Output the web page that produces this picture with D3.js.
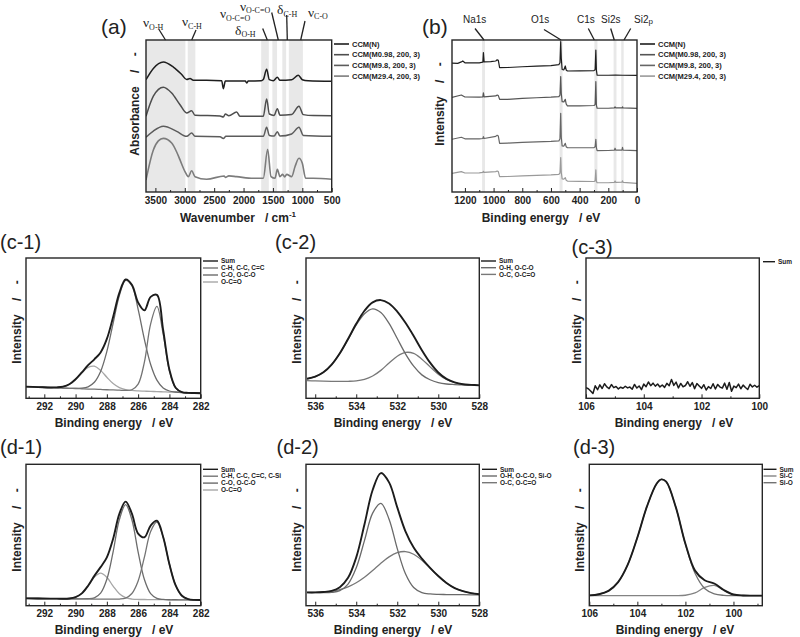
<!DOCTYPE html>
<html>
<head>
<meta charset="utf-8">
<script src="https://cdn.jsdelivr.net/npm/d3@7"></script>
<style>
  body { margin: 0; background: #fff; }
  svg text { font-family: Arial, "Liberation Sans", Helvetica, sans-serif; fill: #222; white-space: pre; }
</style>
</head>
<body>
<script>
// ---------- (a) FTIR: [wavenumber cm-1, absorbance (offset, a.u.)] ----------
const ftirN = [[3660,73.9],[3535,81.3],[3365,85.5],[3195,82.2],[3053,77.3],[2968,74.0],[2911,74.7],[2855,73.5],
  [2628,73.5],[2372,73.2],[2344,68.0],[2310,73.0],[1970,73.0],[1947,71.7],[1920,73.0],[1700,73.2],[1664,74.0],
  [1607,80.7],[1561,73.9],[1493,73.2],[1425,75.5],[1380,73.5],[1181,73.9],[1068,76.8],[1000,73.9],[900,73.2],[500,72.8]];
const ftirM098 = [[3660,49.8],[3535,63.0],[3365,68.9],[3223,65.1],[3081,57.4],[2968,52.0],[2883,53.5],[2826,50.5],
  [2400,50.0],[2344,49.3],[2310,51.3],[2250,50.2],[2117,52.6],[2061,49.8],[1664,49.8],[1607,61.2],[1561,51.3],
  [1480,50.4],[1425,54.8],[1380,50.5],[1181,51.0],[1057,56.4],[983,50.9],[813,50.3],[500,50.2]];
const ftirM98 = [[3660,36.0],[3535,40.1],[3365,43.2],[3138,39.9],[2968,36.6],[2883,38.8],[2826,36.6],[2400,36.4],
  [2344,35.2],[2300,36.6],[1664,36.6],[1607,42.6],[1561,37.2],[1480,36.8],[1425,39.7],[1380,36.8],[1181,38.2],
  [1057,42.6],[983,37.2],[500,36.6]];
const ftirM294 = [[3660,7.9],[3535,27.6],[3450,33.6],[3365,35.3],[3223,32.2],[3138,26.3],[3081,21.1],[2996,13.4],
  [2940,10.1],[2883,14.0],[2826,10.1],[2628,8.4],[2330,10.5],[2310,9.6],[2250,10.6],[2117,10.1],[1834,9.0],
  [1664,9.0],[1590,28.1],[1533,10.1],[1465,9.0],[1425,14.9],[1380,10.1],[1335,11.6],[1300,9.9],[1266,11.6],
  [1181,10.1],[1125,16.6],[1057,22.2],[1000,18.9],[943,9.0],[813,9.0],[500,8.4]];
const ftirBands = [[3660,2990],[2950,2820],[1700,1570],[1510,1430],[1340,1275],[1230,990]];
const ftirTicks = [3500, 3000, 2500, 2000, 1500, 1000, 500];
const ftirMinor = [3250, 2750, 2250, 1750, 1250, 750];
const sampleNames = ['CCM(N)', 'CCM(M0.98, 200, 3)', 'CCM(M9.8, 200, 3)', 'CCM(M29.4, 200, 3)'];

// ---------- (b) XPS survey: [binding energy eV, intensity (offset, a.u.)] ----------
const surveyN = [[1290,84.8],[1250,84.6],[1225,85.6],[1215,86.2],[1200,85.0],[1150,84.9],[1100,85.0],[1075,85.4],
  [1071,91.7],[1066,85.6],[1020,85.8],[985,86.2],[975,87.0],[967,86.6],[958,81.8],[900,81.9],[800,82.4],[700,82.8],
  [600,83.2],[545,83.8],[537,85.0],[532,98.9],[528,88.0],[522,80.6],[510,80.4],[500,82.9],[494,80.3],[485,79.6],
  [400,79.7],[300,79.9],[292,80.4],[287,93.4],[283,80.0],[278,76.8],[200,76.8],[150,76.9],[100,76.8],[0,76.7]];
const surveyM098 = [[1290,62.3],[1225,63.8],[1200,62.5],[1100,62.4],[1075,62.6],[1071,65.3],[1066,62.6],[985,63.2],
  [975,63.8],[967,63.4],[958,61.0],[900,61.0],[800,61.6],[700,62.0],[600,62.4],[545,62.8],[537,63.8],[532,75.9],
  [528,65.0],[522,59.4],[510,59.3],[500,61.0],[494,58.0],[485,56.6],[400,56.7],[300,56.9],[292,57.5],[287,72.6],
  [283,57.0],[278,55.1],[200,55.1],[158,55.3],[153,56.0],[148,55.3],[104,55.3],[101,56.0],[97,55.3],[0,55.0]];
const surveyM98 = [[1290,34.7],[1225,36.0],[1200,35.0],[1100,35.0],[1075,35.2],[1071,36.4],[1066,35.2],[985,36.6],
  [975,37.3],[967,36.8],[958,32.0],[900,32.2],[800,32.7],[700,33.0],[600,33.3],[545,33.6],[537,35.0],[532,51.8],
  [528,36.0],[522,30.3],[510,30.2],[500,32.0],[494,29.8],[485,29.1],[400,29.1],[300,29.2],[292,29.8],[287,34.7],
  [283,29.0],[278,27.2],[200,27.3],[158,27.5],[153,28.8],[148,27.5],[105,27.6],[101,29.4],[97,27.5],[0,27.2]];
const surveyM294 = [[1290,12.3],[1225,13.4],[1200,12.5],[1100,12.6],[1075,12.9],[1071,13.6],[1066,12.9],[985,13.4],
  [975,13.8],[967,13.4],[958,10.1],[900,10.2],[800,10.6],[700,11.0],[600,11.3],[545,11.6],[537,12.5],[532,22.6],
  [528,13.0],[522,8.6],[510,8.5],[500,9.4],[494,7.8],[485,7.2],[400,7.0],[300,6.9],[292,7.3],[287,14.5],
  [283,7.0],[278,6.1],[200,6.1],[158,6.3],[153,7.2],[148,6.3],[105,6.4],[101,7.4],[97,6.3],[0,5.7]];
const surveyBands = [[1080,1060],[540,519],[297,276],[163,143],[110,93]];
const surveyTicks = [1200, 1000, 800, 600, 400, 200, 0];
const surveyMinor = [1100, 900, 700, 500, 300, 100];

// ---------- C1s (c-1, d-1) ----------
const c1sGrid = [293.2,292.4,291.6,291.2,290.8,290.4,290.0,289.6,289.2,288.8,288.4,288.0,287.6,287.2,286.8,286.4,
  286.0,285.6,285.2,284.8,284.4,284.0,283.6,283.2,282.8,282.4,282.0];
const c1Sum = [8.3,8.0,7.7,7.8,8.3,10.0,13.6,18.5,23.6,27.8,32.7,42.3,58.0,75.1,84.7,80.9,68.2,62.7,72.3,73.7,48.7,20.4,7.5,4.4,3.9,3.8,3.6];
const c1CH  = [8.3,8.0,7.6,7.5,7.3,7.1,7.0,6.8,6.6,6.5,6.3,6.1,6.0,5.8,5.6,6.1,10.1,25.8,53.1,65.5,45.9,19.6,7.3,4.4,3.9,3.8,3.6];
const c1CO  = [8.3,8.0,7.6,7.5,7.3,7.1,7.1,7.2,8.2,11.4,19.1,33.4,53.5,73.3,84.1,80.2,63.4,42.0,24.1,13.0,7.4,5.2,4.5,4.1,3.9,3.8,3.6];
const c1OCO = [8.3,8.0,7.7,7.8,8.3,10.0,13.5,18.1,22.0,22.9,19.9,15.0,10.5,7.6,6.2,5.6,5.3,5.1,4.9,4.8,4.6,4.4,4.3,4.1,3.9,3.8,3.6];
const d1Sum = [5.2,5.1,5.0,5.0,4.9,5.1,6.1,8.7,14.1,21.1,27.3,34.2,47.3,64.9,73.6,65.1,51.0,48.4,56.7,60.1,48.6,29.3,14.3,7.0,4.7,4.1,4.0];
const d1CH  = [5.2,5.1,5.0,5.0,4.9,4.9,4.9,4.8,4.8,4.7,4.7,4.6,4.6,4.7,5.4,8.6,17.5,34.3,52.5,59.2,48.5,29.3,14.3,7.0,4.7,4.1,4.0];
const d1CO  = [5.2,5.1,5.0,5.0,4.9,4.9,4.9,4.8,4.9,5.6,8.9,18.7,38.1,60.9,71.5,60.8,37.9,18.5,8.5,5.2,4.4,4.2,4.2,4.1,4.1,4.0,4.0];
const d1OCO = [5.2,5.1,5.0,5.0,4.9,5.1,6.1,8.7,14.0,20.2,23.1,20.1,13.8,8.5,5.7,4.7,4.4,4.4,4.3,4.3,4.3,4.2,4.2,4.1,4.1,4.0,4.0];
const c1sTicks = [292, 290, 288, 286, 284, 282];
const c1sMinor = [293, 291, 289, 287, 285, 283];

// ---------- O1s (c-2, d-2) ----------
const o1sGrid = [536.4,536.0,535.6,535.2,534.8,534.4,534.0,533.6,533.2,532.8,532.4,532.0,531.6,531.2,530.8,530.4,
  530.0,529.6,529.2,528.8,528.4,528.0];
const c2Sum = [13.9,15.4,18.5,24.0,32.1,42.3,53.1,62.4,68.4,70.0,67.6,61.8,53.8,44.4,34.3,25.4,18.4,13.8,11.3,10.0,9.6,9.2];
const c2OH  = [13.9,15.4,18.5,24.0,32.0,42.0,52.3,60.3,63.8,61.2,53.4,42.6,31.7,22.9,16.7,13.2,11.2,10.2,9.8,9.5,9.4,9.2];
const c2OC  = [12.6,12.4,12.2,12.1,12.0,12.1,12.4,13.5,15.9,19.9,25.2,30.0,32.7,32.0,27.9,22.4,17.2,13.4,11.2,10.0,9.6,9.2];
const d2Sum = [9.4,9.4,9.7,10.5,13.1,19.7,34.2,57.4,81.8,93.8,87.2,69.5,52.6,41.1,33.3,26.8,21.0,16.1,12.5,10.3,8.9,8.1];
const d2OH  = [9.3,9.2,9.2,9.4,10.6,15.3,26.8,46.0,65.5,72.4,61.2,40.4,22.6,12.9,9.3,8.3,8.0,7.9,7.8,7.8,7.7,7.6];
const d2OC  = [9.4,9.4,9.7,10.2,11.4,13.3,16.2,20.1,24.9,30.0,34.5,37.5,38.3,36.4,32.2,26.6,21.0,16.1,12.5,10.3,8.9,8.1];
const o1sTicks = [536, 534, 532, 530, 528];
const o1sMinor = [535, 533, 531, 529];

// ---------- Si2p (c-3, d-3) ----------
const c3Grid = [106,105.92,105.84,105.76,105.68,105.6,105.52,105.44,105.36,105.28,105.2,105.12,105.04,104.96,104.88,
  104.8,104.72,104.64,104.56,104.48,104.4,104.32,104.24,104.16,104.08,104,103.92,103.84,103.76,103.68,103.6,103.52,
  103.44,103.36,103.28,103.2,103.12,103.04,102.96,102.88,102.8,102.72,102.64,102.56,102.48,102.4,102.32,102.24,
  102.16,102.08,102,101.92,101.84,101.76,101.68,101.6,101.52,101.44,101.36,101.28,101.2,101.12,101.04,100.96,
  100.88,100.8,100.72,100.64,100.56,100.48,100.4,100.32,100.24,100.16,100.08,100];
const c3Sum = [7.5,6.8,5.2,3.4,8.9,6.1,9.6,7.0,10.4,8.1,6.9,9.8,7.6,8.4,6.7,7.9,7.2,8.6,7.4,8.0,6.5,9.9,7.3,8.8,6.2,
  10.1,8.3,11.6,9.0,10.8,8.7,10.2,8.1,9.5,7.8,10.7,8.9,13.4,9.2,11.5,7.4,10.6,8.2,9.1,11.8,8.6,11.2,6.9,10.5,8.8,
  7.1,9.7,5.9,8.3,7.0,10.4,6.6,9.9,8.0,7.3,10.8,6.4,11.3,5.0,8.7,7.6,10.1,6.8,9.4,7.7,6.3,10.0,8.1,9.3,7.9,9.0];
const si2pGrid = [106.0,105.6,105.2,104.8,104.4,104.0,103.6,103.2,103.0,102.8,102.4,102.0,101.6,101.2,100.8,100.4,100.0,99.6,99.2,98.8];
const d3Sum = [7.3,8.1,10.5,16.7,29.0,48.2,70.2,86.2,89.3,87.7,69.7,43.8,24.8,18.0,15.7,11.1,7.9,7.2,7.1,7.1];
const d3SiC = [7.1,7.1,7.1,7.1,7.1,7.1,7.1,7.1,7.1,7.1,7.1,7.4,9.0,12.9,14.4,10.9,7.9,7.2,7.1,7.1];
const d3SiO = [7.3,8.1,10.5,16.7,29.0,48.2,70.2,86.2,89.3,87.7,69.7,43.5,22.9,12.2,8.4,7.3,7.1,7.1,7.1,7.1];
const si2pTicks = [106, 104, 102, 100];

const c1Labels = ['Sum', 'C-H, C-C, C=C', 'C-O, O-C-O', 'O-C=O'];
const d1Labels = ['Sum', 'C-H, C-C, C=C, C-Si', 'C-O, O-C-O', 'O-C=O'];
const c2Labels = ['Sum', 'O-H, O-C-O', 'O-C, O-C=O'];
const d2Labels = ['Sum', 'O-H, O-C-O, Si-O', 'O-C, O-C=O'];
const d3Labels = ['Sum', 'Si-C', 'Si-O'];

const ftirColors = ['#1e1e1e', '#4e4e4e', '#5c5c5c', '#7c7c7c'];
const surveyColors = ['#1e1e1e', '#555555', '#666666', '#9a9a9a'];
const sumColor = '#1c1c1c';

const svg = d3.select('body').append('svg')
  .attr('width', 800)
  .attr('height', 637);

function drawPanel(p) {
  const x = d3.scaleLinear().domain(p.xDomain).range([p.left, p.right]);
  const y = d3.scaleLinear().domain([0, 100]).range([p.bottom, p.top]);
  const g = svg.append('g');

  g.append('clipPath').attr('id', 'clip-' + p.id)
    .append('rect')
    .attr('x', p.left).attr('y', p.top)
    .attr('width', p.right - p.left).attr('height', p.bottom - p.top);

  g.selectAll('rect.band')
    .data(p.bands || []).enter()
    .append('rect')
    .attr('class', 'band')
    .attr('x', d => x(d[0]))
    .attr('y', p.top)
    .attr('width', d => x(d[1]) - x(d[0]))
    .attr('height', p.bottom - p.top)
    .attr('fill', '#e8e8e8');

  const line = d3.line()
    .x(d => x(d[0]))
    .y(d => y(d[1]))
    .curve(p.curve);

  g.append('g')
    .attr('clip-path', `url(#clip-${p.id})`)
    .selectAll('path')
    .data(p.series).enter()
    .append('path')
    .attr('d', d => line(d.data))
    .attr('fill', 'none')
    .attr('stroke', d => d.color)
    .attr('stroke-width', d => d.width)
    .attr('stroke-linejoin', 'round');

  // minor ticks (inside)
  g.append('g')
    .attr('transform', `translate(0,${p.bottom})`)
    .attr('color', '#222')
    .call(d3.axisBottom(x).tickValues(p.minor).tickSize(-2).tickFormat(''))
    .call(a => a.select('.domain').remove());

  // major ticks + labels
  g.append('g')
    .attr('transform', `translate(0,${p.bottom})`)
    .attr('color', '#222')
    .attr('font-family', 'Arial, "Liberation Sans", sans-serif')
    .attr('font-size', p.tickFont)
    .attr('font-weight', 'bold')
    .call(d3.axisBottom(x).tickValues(p.ticks).tickSize(-4).tickPadding(p.pad).tickFormat(d3.format('d')))
    .call(a => a.select('.domain').remove());

  g.append('rect')
    .attr('x', p.left).attr('y', p.top)
    .attr('width', p.right - p.left).attr('height', p.bottom - p.top)
    .attr('fill', 'none')
    .attr('stroke', '#262626')
    .attr('stroke-width', 1.4);

  // titles
  svg.append('text').attr('x', p.title[1]).attr('y', p.title[2])
    .attr('font-size', p.titleSize || 20).text(p.title[0]);

  if (p.xlabel) {
    svg.append('text').attr('x', p.xlabel[1]).attr('y', p.xlabel[2])
      .attr('text-anchor', 'middle').attr('font-size', 12).attr('font-weight', 'bold')
      .text(p.xlabel[0]);
  }
  svg.append('text')
    .attr('transform', `translate(${p.ylabel[1]},${p.ylabel[2]}) rotate(-90)`)
    .attr('text-anchor', 'middle').attr('font-size', 12).attr('font-weight', 'bold')
    .text(p.ylabel[0]);

  // legend
  const L = p.legend;
  const lg = svg.append('g');
  L.items.forEach((it, i) => {
    const yy = L.y + i * L.dy;
    lg.append('line')
      .attr('x1', L.x).attr('x2', L.x + L.len)
      .attr('y1', yy).attr('y2', yy)
      .attr('stroke', it[1]).attr('stroke-width', L.sw);
    lg.append('text')
      .attr('x', L.x + L.len + 3).attr('y', yy).attr('dy', '0.35em')
      .attr('font-size', L.font).attr('font-weight', 'bold')
      .text(it[0]);
  });
  return { x: x, y: y };
}

const zipS = (grid, vals) => d3.zip(grid, vals);

// ---------- (a) ----------
drawPanel({
  id: 'a', left: 146, right: 331.7, top: 40, bottom: 192,
  xDomain: [3660, 500], bands: ftirBands, curve: d3.curveMonotoneX,
  series: [
    { data: ftirN, color: ftirColors[0], width: 1.5 },
    { data: ftirM098, color: ftirColors[1], width: 1.5 },
    { data: ftirM98, color: ftirColors[2], width: 1.5 },
    { data: ftirM294, color: ftirColors[3], width: 1.6 }
  ],
  ticks: ftirTicks, minor: ftirMinor, tickFont: 8.5, pad: 5,
  title: ['(a)', 101, 34], titleSize: 21,
  ylabel: ['Absorbance    /    -', 139, 104],
  legend: { x: 334, y: 44, dy: 10.7, len: 15, sw: 1.6, font: 7.5,
    items: sampleNames.map((n, i) => [n, ftirColors[i]]) }
});
const wl = svg.append('text').attr('x', 238).attr('y', 222)
  .attr('text-anchor', 'middle').attr('font-size', 12).attr('font-weight', 'bold');
wl.append('tspan').text('Wavenumber   / cm');
wl.append('tspan').attr('font-size', 8).attr('dy', -5).text('-1');

// FTIR band annotations
const ftirAnnot = [
  { m: 'ν', s: 'O-H',   x: 143, y: 27, l: [159, 29.5, 165.5, 40] },
  { m: 'ν', s: 'C-H',   x: 182, y: 26, l: [196, 30, 191.7, 40] },
  { m: 'ν', s: 'O-C=O', x: 220, y: 18, l: null },
  { m: 'δ', s: 'O-H',   x: 235, y: 34.5, l: [262.7, 28.5, 267.3, 40] },
  { m: 'ν', s: 'O-C=O', x: 240, y: 10.5, l: [271.7, 12.5, 278.3, 40] },
  { m: 'δ', s: 'C-H',   x: 277, y: 14, l: [286.7, 15, 287.3, 40] },
  { m: 'ν', s: 'C-O',   x: 308, y: 16.5, l: [305, 21, 300.7, 40] }
];
ftirAnnot.forEach(a => {
  const t = svg.append('text').attr('x', a.x).attr('y', a.y)
    .style('font-family', '"Liberation Serif", "Times New Roman", serif');
  t.append('tspan').attr('font-size', 13.5).text(a.m);
  t.append('tspan').attr('font-size', 8).attr('dy', 2.5).text(a.s);
  if (a.l) {
    svg.append('line').attr('x1', a.l[0]).attr('y1', a.l[1]).attr('x2', a.l[2]).attr('y2', a.l[3])
      .attr('stroke', '#222').attr('stroke-width', 1.3);
  }
});

// ---------- (b) ----------
drawPanel({
  id: 'b', left: 452, right: 637, top: 40, bottom: 192,
  xDomain: [1290, 0], bands: surveyBands, curve: d3.curveLinear,
  series: [
    { data: surveyN, color: surveyColors[0], width: 1.2 },
    { data: surveyM098, color: surveyColors[1], width: 1.2 },
    { data: surveyM98, color: surveyColors[2], width: 1.2 },
    { data: surveyM294, color: surveyColors[3], width: 1.2 }
  ],
  ticks: surveyTicks, minor: surveyMinor, tickFont: 8.5, pad: 5,
  title: ['(b)', 422, 34], titleSize: 21,
  xlabel: ['Binding energy   / eV', 541, 222],
  ylabel: ['Intensity    /    -', 444, 104],
  legend: { x: 640, y: 44, dy: 10.7, len: 15, sw: 1.6, font: 7.5,
    items: sampleNames.map((n, i) => [n, surveyColors[i]]) }
});
const surveyAnnot = [
  { t: 'Na1s', x: 463, l: [475, 28.5, 484, 40] },
  { t: 'O1s',  x: 531, l: [544, 29.5, 561, 40] },
  { t: 'C1s',  x: 577, l: [588.3, 28.5, 594.3, 40] },
  { t: 'Si2s', x: 601, l: [610.7, 28.5, 614.3, 40] },
  { t: 'Si2', x: 634, sub: 'p', l: [630.7, 28.5, 624, 40] }
];
surveyAnnot.forEach(a => {
  const t = svg.append('text').attr('x', a.x).attr('y', 23).attr('font-size', 10);
  t.append('tspan').text(a.t);
  if (a.sub) t.append('tspan').attr('font-size', 8).attr('dy', 1).text(a.sub);
  svg.append('line').attr('x1', a.l[0]).attr('y1', a.l[1]).attr('x2', a.l[2]).attr('y2', a.l[3])
    .attr('stroke', '#222').attr('stroke-width', 1.3);
});

// ---------- (c-1) ----------
drawPanel({
  id: 'c1', left: 26, right: 200.7, top: 258, bottom: 398.3,
  xDomain: [293.17, 282], curve: d3.curveCatmullRom,
  series: [
    { data: zipS(c1sGrid, c1OCO), color: '#a6a6a6', width: 1.3 },
    { data: zipS(c1sGrid, c1CO), color: '#6c6c6c', width: 1.3 },
    { data: zipS(c1sGrid, c1CH), color: '#747474', width: 1.3 },
    { data: zipS(c1sGrid, c1Sum), color: sumColor, width: 1.9 }
  ],
  ticks: c1sTicks, minor: c1sMinor, tickFont: 8, pad: 4.5,
  title: ['(c-1)', 0, 249],
  xlabel: ['Binding energy   / eV', 114, 427],
  ylabel: ['Intensity    /    -', 21, 322],
  legend: { x: 203, y: 261, dy: 7, len: 15, sw: 1.4, font: 6.5,
    items: [[c1Labels[0], sumColor], [c1Labels[1], '#747474'], [c1Labels[2], '#6c6c6c'], [c1Labels[3], '#a6a6a6']] }
});

// ---------- (c-2) ----------
drawPanel({
  id: 'c2', left: 306, right: 479.3, top: 258, bottom: 398.3,
  xDomain: [536.45, 528], curve: d3.curveCatmullRom,
  series: [
    { data: zipS(o1sGrid, c2OC), color: '#787878', width: 1.3 },
    { data: zipS(o1sGrid, c2OH), color: '#6a6a6a', width: 1.3 },
    { data: zipS(o1sGrid, c2Sum), color: sumColor, width: 1.9 }
  ],
  ticks: o1sTicks, minor: o1sMinor, tickFont: 8, pad: 4.5,
  title: ['(c-2)', 275, 249],
  xlabel: ['Binding energy   / eV', 393, 427],
  ylabel: ['Intensity    /    -', 301, 322],
  legend: { x: 481, y: 261, dy: 6.7, len: 15, sw: 1.4, font: 6.5,
    items: [[c2Labels[0], sumColor], [c2Labels[1], '#6a6a6a'], [c2Labels[2], '#787878']] }
});

// ---------- (c-3) ----------
drawPanel({
  id: 'c3', left: 586, right: 759.3, top: 258, bottom: 398.3,
  xDomain: [106, 100], curve: d3.curveLinear,
  series: [
    { data: zipS(c3Grid, c3Sum), color: sumColor, width: 1.5 }
  ],
  ticks: si2pTicks, minor: [105, 103, 101], tickFont: 8, pad: 4.5,
  title: ['(c-3)', 571.5, 253.5],
  xlabel: ['Binding energy   / eV', 674, 427],
  ylabel: ['Intensity    /    -', 581, 322],
  legend: { x: 763, y: 261.7, dy: 7, len: 12, sw: 1.4, font: 6.5,
    items: [['Sum', sumColor]] }
});

// ---------- (d-1) ----------
drawPanel({
  id: 'd1', left: 26, right: 200.7, top: 464.3, bottom: 605.7,
  xDomain: [293.17, 282], curve: d3.curveCatmullRom,
  series: [
    { data: zipS(c1sGrid, d1OCO), color: '#a6a6a6', width: 1.3 },
    { data: zipS(c1sGrid, d1CO), color: '#6c6c6c', width: 1.3 },
    { data: zipS(c1sGrid, d1CH), color: '#747474', width: 1.3 },
    { data: zipS(c1sGrid, d1Sum), color: sumColor, width: 1.9 }
  ],
  ticks: c1sTicks, minor: c1sMinor, tickFont: 8, pad: 4.5,
  title: ['(d-1)', 0, 454],
  xlabel: ['Binding energy   / eV', 114, 634],
  ylabel: ['Intensity    /    -', 21, 530],
  legend: { x: 203, y: 469.3, dy: 6.9, len: 15, sw: 1.4, font: 6.5,
    items: [[d1Labels[0], sumColor], [d1Labels[1], '#747474'], [d1Labels[2], '#6c6c6c'], [d1Labels[3], '#a6a6a6']] }
});

// ---------- (d-2) ----------
drawPanel({
  id: 'd2', left: 306, right: 479.3, top: 464.3, bottom: 605.7,
  xDomain: [536.45, 528], curve: d3.curveCatmullRom,
  series: [
    { data: zipS(o1sGrid, d2OC), color: '#787878', width: 1.3 },
    { data: zipS(o1sGrid, d2OH), color: '#6a6a6a', width: 1.3 },
    { data: zipS(o1sGrid, d2Sum), color: sumColor, width: 1.9 }
  ],
  ticks: o1sTicks, minor: o1sMinor, tickFont: 8, pad: 4.5,
  title: ['(d-2)', 276.5, 454],
  xlabel: ['Binding energy   / eV', 393, 634],
  ylabel: ['Intensity    /    -', 301, 530],
  legend: { x: 482, y: 469.3, dy: 6.7, len: 15, sw: 1.4, font: 6.5,
    items: [[d2Labels[0], sumColor], [d2Labels[1], '#6a6a6a'], [d2Labels[2], '#787878']] }
});

// ---------- (d-3) ----------
drawPanel({
  id: 'd3', left: 589.3, right: 762.3, top: 464.3, bottom: 605.7,
  xDomain: [106, 98.8], curve: d3.curveCatmullRom,
  series: [
    { data: zipS(si2pGrid, d3SiC), color: '#838383', width: 1.3 },
    { data: zipS(si2pGrid, d3SiO), color: '#727272', width: 1.3 },
    { data: zipS(si2pGrid, d3Sum), color: sumColor, width: 1.9 }
  ],
  ticks: si2pTicks, minor: [105, 103, 101, 99], tickFont: 8, pad: 4.5,
  title: ['(d-3)', 573, 454],
  xlabel: ['Binding energy   / eV', 675, 634],
  ylabel: ['Intensity    /    -', 584, 530],
  legend: { x: 763.5, y: 469.3, dy: 6.7, len: 13, sw: 1.4, font: 6.5,
    items: [[d3Labels[0], sumColor], [d3Labels[1], '#838383'], [d3Labels[2], '#727272']] }
});
</script>
</body>
</html>
